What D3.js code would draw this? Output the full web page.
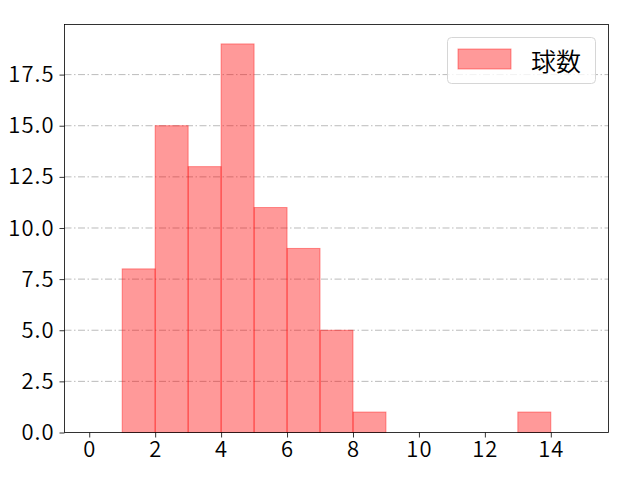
<!DOCTYPE html>
<html>
<head>
	<meta charset="utf-8">
	<style type="text/css">
		body { margin: 0; background: #fff; }
		svg { display: block; font-family: "Noto Sans CJK JP", "DejaVu Sans", sans-serif; }
	</style>
</head>
<body>
	<svg class="viz" width="640" height="480"></svg>

	<script src="https://d3js.org/d3.v7.min.js" charset="utf-8"></script>
	<script type="text/javascript">

		// histogram bins (left edge, right edge) and counts
		var binStart = [1, 2, 3, 4, 5, 6, 7, 8, 13];
		var binEnd = [2, 3, 4, 5, 6, 7, 8, 9, 14];
		var counts = [8, 15, 13, 19, 11, 9, 5, 1, 1];
		var xTicks = [0, 2, 4, 6, 8, 10, 12, 14];
		var yTicks = [0, 2.5, 5, 7.5, 10, 12.5, 15, 17.5];
		var seriesName = '球数';

		var canvas = d3.select('.viz');
		var plotLeft = 64.5, plotRight = 608.5, plotTop = 24.5, plotBottom = 432.5;

		var x = d3.scaleLinear().domain([-0.75, 15.75]).range([plotLeft, plotRight]);
		var y = d3.scaleLinear().domain([0, 19.95]).range([plotBottom, plotTop]);

		// grid lines
		canvas.append('g').selectAll('line').data(yTicks.slice(1))
			.enter().append('line')
				.attr('x1', plotLeft).attr('x2', plotRight)
				.attr('y1', function(d) { return y(d); })
				.attr('y2', function(d) { return y(d); })
				.attr('stroke', '#aaaaaa')
				.attr('stroke-width', 0.8)
				.attr('stroke-dasharray', '7,2.5,1.5,2.5');

		// bars
		canvas.append('g').selectAll('rect').data(counts)
			.enter().append('rect')
				.attr('x', function(d, i) { return x(binStart[i]); })
				.attr('width', function(d, i) { return x(binEnd[i]) - x(binStart[i]); })
				.attr('y', function(d) { return y(d); })
				.attr('height', function(d) { return plotBottom - y(d); })
				.attr('fill', 'rgba(255,0,0,0.4)')
				.attr('stroke', 'rgba(255,0,0,0.4)')
				.attr('stroke-width', 1);

		// axes
		var xAxis = d3.axisBottom(x).tickValues(xTicks).tickSize(5).tickPadding(5)
			.tickFormat(d3.format('d'));
		var yAxis = d3.axisLeft(y).tickValues(yTicks).tickSize(5).tickPadding(5)
			.tickFormat(d3.format('.1f'));

		var gx = canvas.append('g').attr('transform', 'translate(0,' + plotBottom + ')').call(xAxis);
		var gy = canvas.append('g').attr('transform', 'translate(' + plotLeft + ',0)').call(yAxis);
		[gx, gy].forEach(function(g) {
			g.select('.domain').remove();
			g.selectAll('.tick line').attr('stroke', '#000').attr('stroke-width', 0.8);
			g.selectAll('.tick text').attr('fill', '#000')
				.attr('font-size', 22)
				.attr('font-weight', 350)
				.attr('letter-spacing', 1)
				.attr('font-family', '"Noto Sans CJK JP", sans-serif');
		});
		gx.selectAll('.tick text').attr('dy', '0.66em');

		// frame
		canvas.append('rect')
			.attr('x', plotLeft).attr('y', plotTop)
			.attr('width', plotRight - plotLeft).attr('height', plotBottom - plotTop)
			.attr('fill', 'none').attr('stroke', '#000').attr('stroke-width', 0.8);

		// legend
		var legend = canvas.append('g');
		legend.append('rect')
			.attr('x', 447.5).attr('y', 37.5).attr('width', 148).attr('height', 46)
			.attr('rx', 4).attr('fill', 'rgba(255,255,255,0.8)')
			.attr('stroke', '#d6d6d6').attr('stroke-width', 1);
		legend.append('rect')
			.attr('x', 458).attr('y', 49).attr('width', 53).attr('height', 20)
			.attr('fill', 'rgba(255,0,0,0.4)')
			.attr('stroke', 'rgba(255,0,0,0.4)');
		legend.append('text')
			.attr('x', 531).attr('y', 60)
			.attr('dominant-baseline', 'central')
			.attr('font-size', 25)
			.attr('font-weight', 350)
			.text(seriesName);

	</script>
</body>
</html>
